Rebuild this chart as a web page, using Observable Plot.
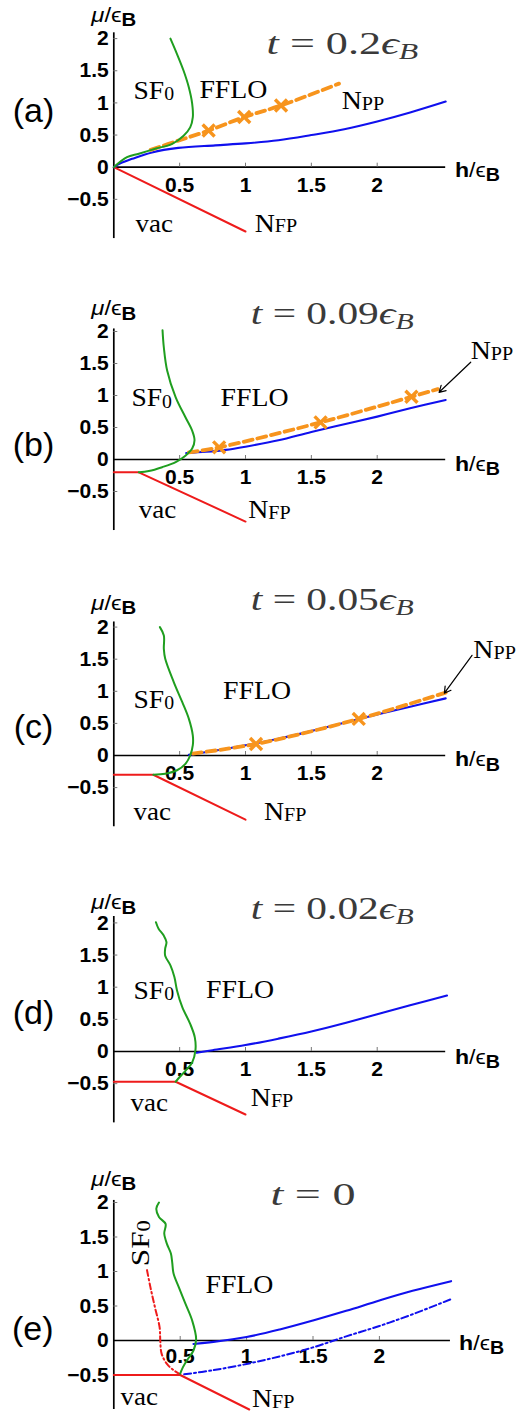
<!DOCTYPE html>
<html><head><meta charset="utf-8">
<script src="https://cdn.jsdelivr.net/npm/d3@7"></script>
<script src="https://cdn.jsdelivr.net/npm/@observablehq/plot@0.6"></script>
<style>
html,body{margin:0;padding:0;background:#fff;overflow:hidden;}
#root{position:relative;width:518px;height:1413px;}
.panel{position:absolute;left:0;}
.panel svg{display:block;}
</style></head><body><div id="root"></div>
<script>
// ---------- ticks ----------
const yTicks = [-0.5, 0, 0.5, 1, 1.5, 2];
const xTicks = [0.5, 1, 1.5, 2];

// ---------- (a) t = 0.2 eB ----------
const greenA = [[0,0],[0.10,0.156],[0.19,0.21],[0.32,0.29],[0.44,0.36],[0.53,0.49],[0.58,0.62],[0.60,0.78],[0.595,0.99],[0.57,1.24],[0.53,1.50],[0.48,1.76],[0.43,2.0]];
const blueA = [[0,0],[0.05,0.06],[0.14,0.13],[0.29,0.23],[0.49,0.30],[0.77,0.34],[1.0,0.37],[1.25,0.42],[1.5,0.50],[1.75,0.59],[2.0,0.71],[2.25,0.85],[2.52,1.02]];
const orangeA = [[0.28,0.27],[0.5,0.42],[0.72,0.57],[0.99,0.78],[1.27,0.96],[1.71,1.30]];
const crossA = [[0.72,0.57],[0.99,0.78],[1.27,0.96]];
const redA = [[0,0],[1,-1]];

// ---------- (b) t = 0.09 eB ----------
const greenB = [[0.37,2.02],[0.38,1.75],[0.405,1.39],[0.47,0.97],[0.544,0.66],[0.595,0.45],[0.613,0.30],[0.595,0.17],[0.544,0.06],[0.47,-0.04],[0.367,-0.12],[0.266,-0.18],[0.19,-0.2]];
const blueB = [[0.55,0.10],[0.7,0.12],[0.85,0.15],[1.0,0.20],[1.25,0.30],[1.5,0.43],[1.75,0.55],[2.0,0.67],[2.25,0.80],[2.52,0.93]];
const orangeB = [[0.57,0.11],[0.8,0.19],[1.57,0.58],[2.26,0.98],[2.46,1.10]];
const crossB = [[0.80,0.19],[1.57,0.58],[2.26,0.98]];
const redB = [[0,-0.2],[0.19,-0.2],[1.0,-0.97]];

// ---------- (c) t = 0.05 eB ----------
const greenC = [[0.35,2.0],[0.38,1.87],[0.38,1.66],[0.39,1.51],[0.456,1.14],[0.52,0.83],[0.57,0.57],[0.60,0.31],[0.60,0.16],[0.58,0.0],[0.544,-0.13],[0.48,-0.23],[0.39,-0.285],[0.30,-0.30]];
const blueC = [[0.57,0.01],[0.75,0.07],[1.0,0.16],[1.25,0.26],[1.5,0.38],[1.75,0.51],[2.0,0.64],[2.25,0.76],[2.52,0.89]];
const orangeC = [[0.6,0.03],[1.08,0.18],[1.86,0.57],[2.52,0.98]];
const crossC = [[1.08,0.18],[1.86,0.57]];
const redC = [[0,-0.3],[0.30,-0.30],[1.0,-1.0]];

// ---------- (d) t = 0.02 eB ----------
const greenD = [[0.32,2.01],[0.34,1.91],[0.38,1.80],[0.40,1.70],[0.39,1.60],[0.39,1.49],[0.43,1.34],[0.46,1.16],[0.48,0.95],[0.52,0.69],[0.58,0.43],[0.615,0.22],[0.62,0.02],[0.595,-0.17],[0.544,-0.30],[0.49,-0.42],[0.47,-0.47]];
const blueD = [[0.63,-0.02],[0.75,0.02],[1.0,0.10],[1.25,0.20],[1.5,0.31],[1.75,0.44],[2.0,0.58],[2.25,0.72],[2.53,0.87]];
const redD = [[0,-0.47],[0.47,-0.47],[1.0,-0.98]];

// ---------- (e) t = 0 ----------
const greenE = [[0.34,2.0],[0.32,1.91],[0.34,1.79],[0.39,1.69],[0.38,1.55],[0.40,1.40],[0.43,1.26],[0.44,1.13],[0.45,0.97],[0.49,0.77],[0.54,0.53],[0.59,0.29],[0.62,0.02],[0.60,-0.145],[0.55,-0.29],[0.52,-0.39],[0.50,-0.48]];
const redDashE = [[0.25,1.02],[0.276,0.77],[0.31,0.48],[0.345,0.19],[0.35,0],[0.36,-0.19],[0.40,-0.34],[0.45,-0.43],[0.50,-0.49]];
const blueE = [[0.6,-0.05],[0.75,-0.02],[1.0,0.05],[1.25,0.16],[1.5,0.29],[1.75,0.43],[2.0,0.58],[2.25,0.72],[2.54,0.86]];
const blueDashE = [[0.53,-0.49],[0.75,-0.43],[1.0,-0.34],[1.25,-0.23],[1.5,-0.1],[1.75,0.06],[2.0,0.21],[2.25,0.38],[2.54,0.60]];
const redE = [[0,-0.5],[0.5,-0.5],[1.02,-1.0]];

// ---------- text labels (h, mu) ----------
const labelsA = [{t:"SF0",h:0.15,mu:1.06},{t:"FFLO",h:0.65,mu:1.08},{t:"NPP",h:1.73,mu:0.90},{t:"vac",h:0.165,mu:-1.0},{t:"NFP",h:1.07,mu:-1.0}];
const labelsB = [{t:"SF0",h:0.134,mu:0.83},{t:"FFLO",h:0.81,mu:0.83},{t:"NPP",h:2.71,mu:1.57},{t:"vac",h:0.19,mu:-0.92},{t:"NFP",h:1.02,mu:-0.92}];
const labelsC = [{t:"SF0",h:0.15,mu:0.74},{t:"FFLO",h:0.83,mu:0.88},{t:"NPP",h:2.73,mu:1.52},{t:"vac",h:0.15,mu:-1.01},{t:"NFP",h:1.14,mu:-1.01}];
const labelsD = [{t:"SF0",h:0.15,mu:0.82},{t:"FFLO",h:0.70,mu:0.83},{t:"vac",h:0.127,mu:-0.93},{t:"NFP",h:1.04,mu:-0.85}];
const labelsE = [{t:"FFLO",h:0.69,mu:0.69},{t:"vac",h:0.05,mu:-0.94},{t:"NFP",h:1.04,mu:-0.97}];
const rotLabelE = [{t:"SF0",h:0.20,mu:1.41}];
const arrowB = [{x1:2.71,y1:1.52,x2:2.47,y2:1.05}];
const arrowC = [{x1:2.72,y1:1.56,x2:2.51,y2:0.97}];

const GREEN = "#1f9e1f", BLUE = "#1010ee", RED = "#ee1b1b", ORANGE = "#f7941d";
const SERIF = "Liberation Serif, Times New Roman, serif";
const SANS = "Liberation Sans, Arial, sans-serif";

const panels = [
  {tag:"(a)", title:"t = 0.2ϵB", top:0, height:290, x0:113.3, kx:131.7, y0:166.7, ky:64.3, hMax:2.52, muMin:-1.11, muMax:2.09, xLabDy:18,
   tagMu:0.865, titleH:1.16, titleMu:1.76, muLab:2.37, hLab:2.59, hLabMu:-0.04,
   green:greenA, blue:blueA, orange:orangeA, cross:crossA, red:redA, labels:labelsA},
  {tag:"(b)", title:"t = 0.09ϵB", top:290, height:295, x0:113.3, kx:131.7, y0:169, ky:64, hMax:2.52, muMin:-1.11, muMax:2.04, xLabDy:18,
   tagMu:0.23, titleH:1.04, titleMu:2.12, muLab:2.36, hLab:2.59, hLabMu:-0.07,
   green:greenB, blue:blueB, orange:orangeB, cross:crossB, red:redB, labels:labelsB, arrow:arrowB},
  {tag:"(c)", title:"t = 0.05ϵB", top:585, height:295, x0:113.3, kx:131.7, y0:170, ky:64.2, hMax:2.52, muMin:-1.11, muMax:2.08, xLabDy:18,
   tagMu:0.44, titleH:1.04, titleMu:2.27, muLab:2.375, hLab:2.59, hLabMu:-0.06,
   green:greenC, blue:blueC, orange:orangeC, cross:crossC, red:redC, labels:labelsC, arrow:arrowC},
  {tag:"(d)", title:"t = 0.02ϵB", top:880, height:285, x0:113.3, kx:131.7, y0:171, ky:64.3, hMax:2.52, muMin:-1.11, muMax:2.1, xLabDy:18,
   tagMu:0.59, titleH:1.04, titleMu:2.06, muLab:2.32, hLab:2.59, hLabMu:-0.09,
   green:greenD, blue:blueD, red:redD, labels:labelsD},
  {tag:"(e)", title:"t = 0", top:1165, height:248, x0:113.3, kx:132.8, y0:175, ky:69, hMax:2.535, muMin:-1.0, muMax:2.03, xLabDy:16,
   tagMu:0.16, titleH:1.18, titleMu:1.96, muLab:2.34, hLab:2.6, hLabMu:-0.04,
   green:greenE, blue:blueE, red:redE, labels:labelsE, rot:rotLabelE, redDash:redDashE, blueDash:blueDashE}
];

const fmt = d => d < 0 ? "\u2212" + Math.abs(d) : String(d);

const sub = (s, size, dy) => `<tspan font-size="${size}" dy="${dy}">${s}</tspan>`;
const RICH = {
  "SF0": `SF${sub("0","72%","0.08em")}`,
  "NPP": `N${sub("PP","72%","0.04em")}`,
  "NFP": `N${sub("FP","72%","0.04em")}`,
  "μ/ϵB": `<tspan font-style="italic">μ</tspan>/ϵ<tspan font-weight="bold" font-size="85%" dy="0.25em">B</tspan>`,
  "h/ϵB": `<tspan font-weight="bold">h</tspan>/ϵ<tspan font-weight="bold" font-size="85%" dy="0.25em">B</tspan>`
};
const TL = {"FFLO":68, "SF0":40.5, "vac":37.5, "NPP":42.5, "NFP":42.5, "μ/ϵB":45, "h/ϵB":45,
  "t = 0.2ϵB":151.7, "t = 0.09ϵB":163, "t = 0.05ϵB":163, "t = 0.02ϵB":163, "t = 0":85};

function richTitle(s) {
  const m = s.match(/^t = ([0-9.]+)(ϵB)?$/);
  let html = `<tspan font-style="italic">t</tspan> = ${m[1]}`;
  if (m[2]) html += `<tspan font-style="italic">ϵ</tspan><tspan font-style="italic" font-size="72%" dy="0.22em">B</tspan>`;
  return html;
}

function richify(svg, rotW) {
  for (const t of svg.querySelectorAll("text")) {
    const s = t.textContent;
    if (RICH[s]) t.innerHTML = RICH[s];
    else if (s.startsWith("t = ")) t.innerHTML = richTitle(s);
    let w = TL[s];
    if (t.getAttribute("transform") && /rotate/.test(t.getAttribute("transform")) && rotW) w = rotW;
    if (w) { t.setAttribute("textLength", w); t.setAttribute("lengthAdjust", "spacingAndGlyphs"); }
  }
}

const root = document.getElementById("root");
for (const p of panels) {
  const marks = [
    Plot.ruleY([0], {x1: 0, x2: p.hMax, stroke: "#000", strokeWidth: 1.7}),
    Plot.ruleX([0], {y1: p.muMin, y2: p.muMax, stroke: "#000", strokeWidth: 1.7}),
    Plot.ruleY(yTicks.filter(d => d !== 0), {x1: 0, x2: 4 / p.kx, stroke: "#777", strokeWidth: 1}),
    Plot.ruleX(xTicks, {y1: 0, y2: 4 / p.ky, stroke: "#777", strokeWidth: 1}),
    Plot.text(yTicks, {x: 0, y: d => d, text: fmt, textAnchor: "end", dx: -5, lineAnchor: "middle", fontWeight: "bold", fontSize: 21, fontFamily: SANS, fill: "#000"}),
    Plot.text(xTicks, {x: d => d, y: 0, text: fmt, dy: p.xLabDy, lineAnchor: "middle", fontWeight: "bold", fontSize: 21, fontFamily: SANS, fill: "#000"}),
    Plot.text(["μ/ϵB"], {x: 0, y: p.muLab, text: d => d, textAnchor: "middle", lineAnchor: "middle", fontSize: 21, fontFamily: SANS, fill: "#000"}),
    Plot.text(["h/ϵB"], {x: p.hLab, y: p.hLabMu, text: d => d, textAnchor: "start", lineAnchor: "middle", fontSize: 21, fontFamily: SANS, fill: "#000"}),
    Plot.text([p.tag], {x: -0.61, y: p.tagMu, text: d => d, textAnchor: "middle", lineAnchor: "middle", fontSize: 34, fontFamily: SANS, fill: "#000"}),
    Plot.text([p.title], {x: p.titleH, y: p.titleMu, text: d => d, textAnchor: "start", lineAnchor: "bottom", fontSize: 31, fontFamily: SERIF, fill: "#3a3a3a"}),
    Plot.text(p.labels, {x: "h", y: "mu", text: "t", textAnchor: "start", lineAnchor: "bottom", fontSize: 25, fontFamily: SERIF, fill: "#000"}),
    Plot.line(p.red, {stroke: RED, strokeWidth: 2})
  ];
  if (p.rot) marks.push(Plot.text(p.rot, {x: "h", y: "mu", text: "t", rotate: -90, textAnchor: "middle", lineAnchor: "middle", fontSize: 26, fontFamily: SERIF, fill: "#000"}));
  if (p.redDash) marks.push(Plot.line(p.redDash, {stroke: RED, strokeWidth: 2, curve: "catmull-rom", strokeDasharray: "6,3,1.5,3"}));
  if (p.blueDash) marks.push(Plot.line(p.blueDash, {stroke: BLUE, strokeWidth: 2, curve: "catmull-rom", strokeDasharray: "7,3,2,3"}));
  marks.push(Plot.line(p.blue, {stroke: BLUE, strokeWidth: 2.1, curve: "catmull-rom"}));
  if (p.orange) marks.push(Plot.line(p.orange, {stroke: ORANGE, strokeWidth: 3.8, curve: "catmull-rom", strokeDasharray: "9,5"}));
  if (p.cross) marks.push(Plot.dot(p.cross, {x: d => d[0], y: d => d[1], symbol: "times", r: 5.5, stroke: ORANGE, strokeWidth: 3.4}));
  marks.push(Plot.line(p.green, {stroke: GREEN, strokeWidth: 2, curve: "catmull-rom"}));
  if (p.arrow) marks.push(Plot.arrow(p.arrow, {x1: "x1", y1: "y1", x2: "x2", y2: "y2", stroke: "#000", strokeWidth: 1.2, headLength: 9}));

  const svg = Plot.plot({
    width: 518,
    height: p.height,
    margin: 0,
    style: {background: "transparent", overflow: "visible"},
    x: {type: "linear", domain: [0, 1], range: [p.x0, p.x0 + p.kx], axis: null},
    y: {type: "linear", domain: [0, 1], range: [p.y0, p.y0 - p.ky], axis: null},
    marks
  });
  richify(svg, 46);
  const div = document.createElement("div");
  div.className = "panel";
  div.style.top = p.top + "px";
  div.appendChild(svg);
  root.appendChild(div);
}
</script>
</body></html>
